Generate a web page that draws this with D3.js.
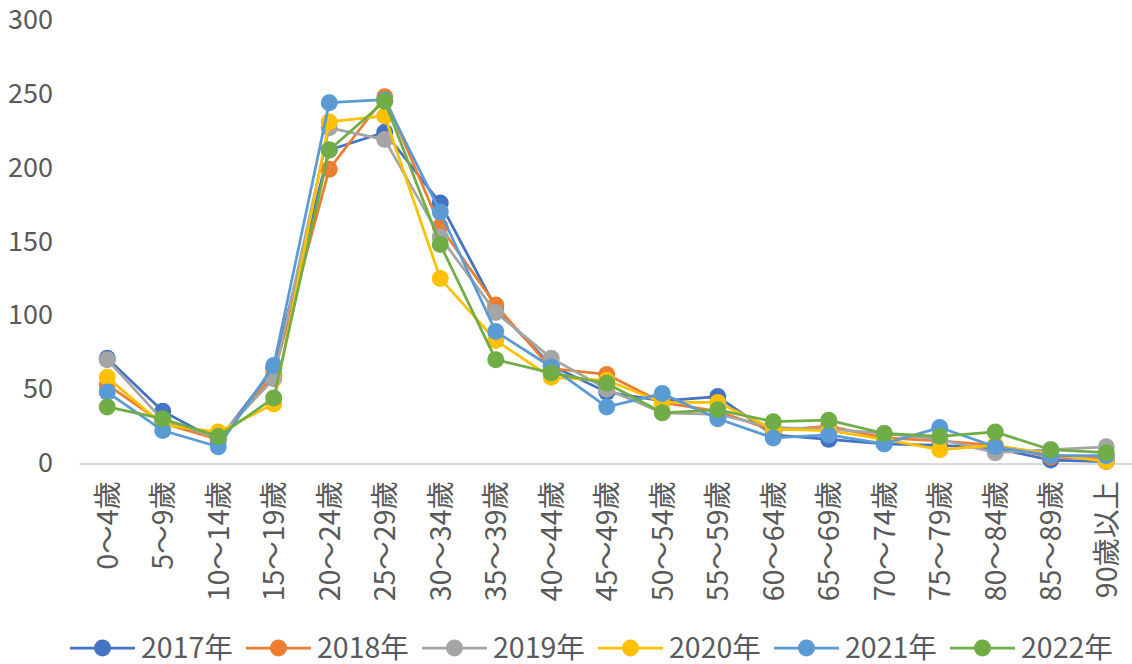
<!DOCTYPE html>
<html>
<head>
<meta charset="utf-8">
<script src="https://cdn.jsdelivr.net/npm/d3@7"></script>
<style>
  body { margin: 0; background: #fff; }
  text { font-family: "Noto Sans CJK TC", "Noto Sans", sans-serif; fill: #595959; }
</style>
</head>
<body>
<script>
const categories = ["0～4歲", "5～9歲", "10～14歲", "15～19歲", "20～24歲", "25～29歲", "30～34歲",
  "35～39歲", "40～44歲", "45～49歲", "50～54歲", "55～59歲", "60～64歲", "65～69歲",
  "70～74歲", "75～79歲", "80～84歲", "85～89歲", "90歲以上"];

const years = ["2017年", "2018年", "2019年", "2020年", "2021年", "2022年"];

const v2017 = [71, 35, 15, 64, 212, 224, 176, 105, 66, 48, 42, 45, 19, 16, 13, 12, 10, 2, 1];
const v2018 = [53, 27, 16, 60, 199, 248, 160, 107, 64, 60, 41, 35, 22, 25, 17, 15, 12, 4, 3];
const v2019 = [70, 29, 17, 57, 227, 219, 153, 102, 71, 50, 34, 33, 24, 23, 20, 16, 7, 9, 11];
const v2020 = [58, 26, 21, 40, 231, 235, 125, 83, 58, 56, 41, 41, 23, 22, 16, 9, 12, 6, 1];
const v2021 = [48, 22, 11, 66, 244, 246, 170, 89, 65, 38, 47, 30, 17, 19, 13, 24, 11, 5, 5];
const v2022 = [38, 30, 18, 44, 212, 245, 148, 70, 61, 54, 34, 36, 28, 29, 20, 18, 21, 9, 7];

const yTicks = [0, 50, 100, 150, 200, 250, 300];

const colors = ["#4472C4", "#ED7D31", "#A5A5A5", "#FFC000", "#5B9BD5", "#70AD47"];
const series = [v2017, v2018, v2019, v2020, v2021, v2022];

const width = 1132, height = 664;
const plot = {left: 79.5, right: 1134, top: 20, bottom: 463};

const svg = d3.select("body").append("svg")
  .attr("width", width)
  .attr("height", height);

const x = d3.scalePoint()
  .domain(categories)
  .range([plot.left, plot.right])
  .padding(0.5);

const y = d3.scaleLinear()
  .domain([0, 300])
  .range([plot.bottom, plot.top]);

// y labels, no grid lines
const yAxis = d3.axisLeft(y).tickValues(yTicks).tickSize(0).tickPadding(0);
svg.append("g")
  .attr("transform", "translate(53,0)")
  .call(yAxis)
  .call(g => g.select(".domain").remove())
  .call(g => g.selectAll("text")
    .attr("font-size", 27)
    .attr("font-family", null)
    .attr("fill", null));

// baseline
svg.append("line")
  .attr("x1", plot.left).attr("x2", width)
  .attr("y1", y(0) + 1).attr("y2", y(0) + 1)
  .attr("stroke", "#d9d9d9")
  .attr("stroke-width", 2);

// category labels, rotated
const xAxis = d3.axisBottom(x).tickSize(0).tickPadding(0);
svg.append("g")
  .attr("transform", "translate(0," + (plot.bottom + 18) + ")")
  .call(xAxis)
  .call(g => g.select(".domain").remove())
  .call(g => g.selectAll("text")
    .attr("font-size", 28.5)
    .attr("font-family", null)
    .attr("fill", null)
    .attr("transform", "rotate(-90)")
    .attr("text-anchor", "end")
    .attr("x", 0)
    .attr("y", 0)
    .attr("dy", "0.35em"));

const line = d3.line()
  .x((d, i) => x(categories[i]))
  .y(d => y(d));

series.forEach((vals, s) => {
  const g = svg.append("g");
  g.append("path")
    .datum(vals)
    .attr("d", line)
    .attr("fill", "none")
    .attr("stroke", colors[s])
    .attr("stroke-width", 2.75)
    .attr("stroke-linejoin", "round");
  g.selectAll("circle")
    .data(vals)
    .enter()
    .append("circle")
    .attr("cx", (d, i) => x(categories[i]))
    .attr("cy", d => y(d))
    .attr("r", 8.5)
    .attr("fill", colors[s]);
});

// legend
const legend = svg.append("g").attr("transform", "translate(0,648)");
years.forEach((name, i) => {
  const lx = 70 + i * 176;
  const item = legend.append("g").attr("transform", "translate(" + lx + ",0)");
  item.append("line")
    .attr("x1", 0).attr("x2", 65)
    .attr("stroke", colors[i])
    .attr("stroke-width", 2.75);
  item.append("circle")
    .attr("cx", 32.5).attr("r", 8.5)
    .attr("fill", colors[i]);
  item.append("text")
    .attr("x", 71)
    .attr("dy", "0.35em")
    .attr("font-size", 28.5)
    .text(name);
});
</script>
</body>
</html>
